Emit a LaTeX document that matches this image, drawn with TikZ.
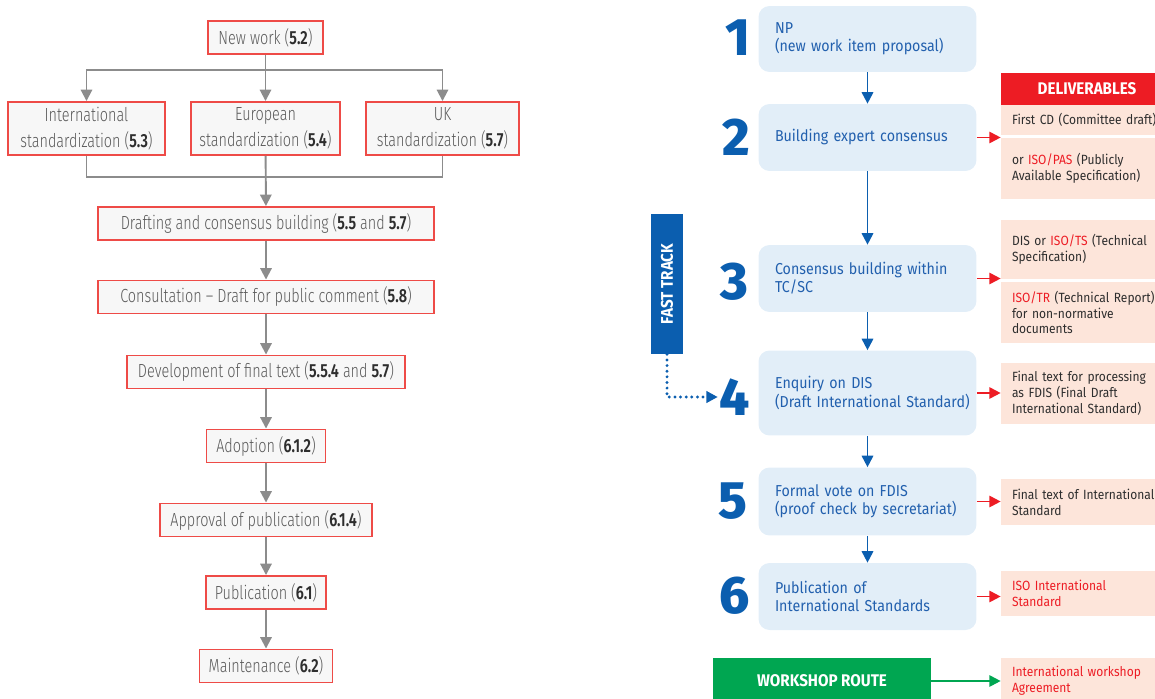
\documentclass[tikz,border=0pt]{standalone}
\usepackage{fontspec}
\setmainfont{Fira Sans}[FakeStretch=0.9]
\newfontfamily\greyfont{Fira Sans Light}[FakeStretch=0.76,BoldFont={Fira Sans SemiBold}]
\newfontfamily\numfont{Fira Sans ExtraBold}
\usetikzlibrary{positioning, calc, arrows.meta}
\hyphenpenalty=10000
\exhyphenpenalty=10000

\definecolor{isoblue}{HTML}{0B5EAF}
\definecolor{boxblue}{HTML}{E2EEF8}
\definecolor{txtblue}{HTML}{2260AE}
\definecolor{delred}{HTML}{ED1C24}
\definecolor{delpink}{HTML}{FDE5DA}
\definecolor{wsgreen}{HTML}{00A651}
\definecolor{stagered}{HTML}{EE4B47}
\definecolor{stagefill}{HTML}{F7F7F7}
\definecolor{linegrey}{HTML}{8C8C8C}
\definecolor{textgrey}{HTML}{5A5A5A}
\definecolor{textdark}{HTML}{2E2E2E}

\newcommand{\clause}[1]{\textbf{\color{textdark}#1}}
\newcommand{\isored}[1]{{\color{delred}#1}}

\tikzset{
  stage/.style={draw=stagered, line width=1.1pt, fill=stagefill, text=textgrey,
    font=\greyfont\fontsize{10.8}{14.5}\selectfont, align=center,
    minimum height=0.66cm, inner sep=0pt},
  link/.style={draw=linegrey, line width=1.1pt},
  flow/.style={link, -{Triangle[width=6.5pt,length=6.5pt]}},
  isobox/.style={fill=boxblue, rounded corners=0.22cm, text=txtblue,
    font=\fontsize{9}{10.4}\selectfont, align=left, text width=3.7cm,
    inner xsep=0.33cm, minimum height=#1},
  stageno/.style={text=isoblue, font=\numfont\fontsize{30}{30}\selectfont, inner sep=1pt},
  isoflow/.style={draw=isoblue, line width=1.1pt, -{Triangle[width=6.5pt,length=6.5pt]}},
  deliv/.style={fill=delpink, text=textdark, font=\fontsize{7.6}{9}\selectfont,
    align=left, text width=3cm, inner xsep=0.22cm, minimum height=#1},
  delarrow/.style={draw=delred, line width=1.1pt, -{Triangle[width=6.5pt,length=6.5pt]}},
  banner/.style={fill=#1, text=white, font=\bfseries\fontsize{9.6}{9.6}\selectfont, inner sep=0pt},
}

\begin{document}
\begin{tikzpicture}[x=0.02cm, y=-0.02cm]
    \useasboundingbox (0,0) rectangle (1155,699);

    % National route (left)
    \node[stage, minimum width=2.3cm] (newwork) at (265.5,37.5) {New work (\clause{5.2})};
    \node[stage, minimum width=3.14cm, minimum height=1.06cm] (intl) at (86.5,128.5)
        {International\\standardization (\clause{5.3})};
    \node[stage, minimum width=2.98cm, minimum height=1.06cm] (euro) at (265.5,128.5)
        {European\\standardization (\clause{5.4})};
    \node[stage, minimum width=3.06cm, minimum height=1.06cm] (uk) at (442.5,128.5)
        {UK\\standardization (\clause{5.7})};
    \node[stage, minimum width=6.72cm] (drafting) at (266,223.5)
        {Drafting and consensus building (\clause{5.5} and \clause{5.7})};
    \node[stage, minimum width=6.72cm] (consult) at (266,297)
        {Consultation – Draft for public comment (\clause{5.8})};
    \node[stage, minimum width=5.56cm] (develop) at (266,372)
        {Development of final text (\clause{5.5.4} and \clause{5.7})};
    \node[stage, minimum width=2.38cm] (adopt) at (266,446) {Adoption (\clause{6.1.2})};
    \node[stage, minimum width=4.24cm] (approve) at (266,520) {Approval of publication (\clause{6.1.4})};
    \node[stage, minimum width=2.4cm] (publication) at (266,592.5) {Publication (\clause{6.1})};
    \node[stage, minimum width=2.66cm] (maint) at (266,666) {Maintenance (\clause{6.2})};

    \coordinate (split) at (265.5,70);
    \coordinate (merge) at (265.5,177);
    \draw[link] (newwork) -- (split);
    \draw[flow] (split) -| (intl);
    \draw[flow] (split) -- (euro);
    \draw[flow] (split) -| (uk);
    \draw[link] (intl) |- (merge);
    \draw[link] (uk) |- (merge);
    \draw[flow] (euro) -- (drafting);
    \foreach \a/\b in {drafting/consult, consult/develop, develop/adopt,
                       adopt/approve, approve/publication, publication/maint}
        \draw[flow] (\a) -- (\b);

    % ISO stages (right)
    \node[isobox=1.32cm] (np) at (867.5,39) {NP\\(new work item proposal)};
    \node[isobox=1.34cm] (expert) at (867.5,137.5) {Building expert consensus};
    \node[isobox=1.34cm] (tcsc) at (867.5,278.5) {Consensus building within\\TC/SC};
    \node[isobox=1.70cm] (enquiry) at (867.5,393) {Enquiry on DIS\\(Draft~International~Standard)};
    \node[isobox=1.36cm] (fdis) at (867.5,501.5) {Formal vote on FDIS\\(proof~check~by~secretariat)};
    \node[isobox=1.34cm] (isopub) at (867.5,596.5) {Publication of\\International Standards};

    \node[stageno] (n1) at (738,38) {1};
    \node[stageno] (n2) at (736,137) {2};
    \node[stageno] (n3) at (734,282) {3};
    \node[stageno] (n4) at (735,397) {4};
    \node[stageno] (n5) at (733,501) {5};
    \node[stageno] (n6) at (735,596) {6};

    \draw[isoflow] (np) -- (expert);
    \draw[isoflow] (expert) -- (tcsc);
    \draw[isoflow] (tcsc) -- (enquiry);
    \draw[isoflow] (enquiry) -- (fdis);
    \draw[isoflow] (fdis) -- (isopub);

    % Fast track
    \node[banner=isoblue, rotate=90, minimum width=2.8cm, minimum height=0.64cm]
        (fast) at (667,284) {FAST TRACK};
    \draw[isoblue, line width=1.8pt, line cap=round, dash pattern=on 0pt off 3.2pt,
        -{Triangle[width=6.5pt,length=6.5pt]}] (fast.west) |- (n4);

    % Deliverables
    \node[banner=delred, minimum width=3.44cm, minimum height=0.64cm] (delhead) at (1087,89) {DELIVERABLES};
    \node[deliv=0.6cm] (cd) at (1087,120) {First CD (Committee draft)};
    \node[deliv=1.22cm] (pas) at (1087,168.5) {or \isored{ISO/PAS} (Publicly\\Available Specification)};
    \node[deliv=1.18cm] (dists) at (1087,249.5) {DIS or \isored{ISO/TS} (Technical\\Specification)};
    \node[deliv=1.22cm] (tr) at (1087,312.5) {\isored{ISO/TR} (Technical Report)\\for non-normative\\documents};
    \node[deliv=1.22cm] (final) at (1087,393.5) {Final text for processing\\as FDIS (Final Draft\\International Standard)};
    \node[deliv=0.92cm] (istext) at (1087,502) {Final text of International\\Standard};
    \node[deliv=0.9cm, text=delred] (isostd) at (1087,593.5) {ISO International\\Standard};
    \node[deliv=0.92cm, text=delred] (iwa) at (1087,681) {International workshop\\Agreement};

    \draw[delarrow] (expert) -- (expert -| cd.west);
    \draw[delarrow] (tcsc) -- (tcsc -| dists.west);
    \draw[delarrow] (enquiry) -- (enquiry -| final.west);
    \draw[delarrow] (fdis) -- (fdis -| istext.west);
    \draw[delarrow] (isopub) -- (isopub -| isostd.west);

    % Workshop route
    \node[banner=wsgreen, minimum width=4.36cm, minimum height=0.92cm] (workshop) at (822,681) {WORKSHOP ROUTE};
    \draw[wsgreen, line width=1.1pt, -{Triangle[width=6.5pt,length=6.5pt]}] (workshop) -- (iwa);
\end{tikzpicture}
\end{document}
